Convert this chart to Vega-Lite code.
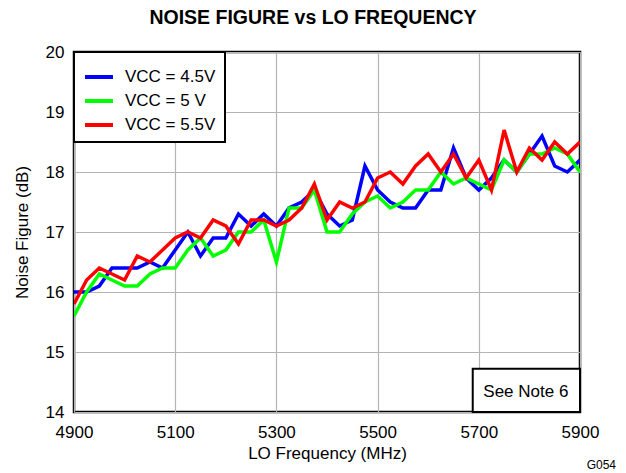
{
  "$schema": "https://vega.github.io/schema/vega-lite/v6.json",
  "width": 506,
  "height": 360,
  "autosize": "none",
  "padding": {"left": 74, "top": 52, "right": 46, "bottom": 61},
  "title": {"text": "NOISE FIGURE vs LO FREQUENCY", "fontSize": 19.5, "fontWeight": "bold", "font": "Liberation Sans", "color": "#000", "offset": 15, "dx": -14},
  "config": {
    "font": "Liberation Sans",
    "view": {"stroke": "#000", "strokeWidth": 2.5},
    "axis": {"grid": true, "gridColor": "#b4b4b4", "gridWidth": 1.2, "gridOpacity": 1, "domain": false, "ticks": false, "labelFontSize": 17, "labelColor": "#000", "labelFont": "Liberation Sans", "labelFlush": false, "labelOverlap": false, "labelBound": false, "titleFontSize": 17, "titleFontWeight": "normal", "titleColor": "#000", "titleFont": "Liberation Sans", "format": "d"},
    "legend": {"strokeWidth": 2}
  },
  "datasets": {
    "nf": [
      {"f":4900,"nf":16.0,"vcc":"VCC = 4.5V"},{"f":4925,"nf":16.0,"vcc":"VCC = 4.5V"},{"f":4950,"nf":16.1,"vcc":"VCC = 4.5V"},{"f":4975,"nf":16.4,"vcc":"VCC = 4.5V"},{"f":5000,"nf":16.4,"vcc":"VCC = 4.5V"},{"f":5025,"nf":16.4,"vcc":"VCC = 4.5V"},{"f":5050,"nf":16.5,"vcc":"VCC = 4.5V"},{"f":5075,"nf":16.4,"vcc":"VCC = 4.5V"},{"f":5100,"nf":16.7,"vcc":"VCC = 4.5V"},{"f":5125,"nf":17.0,"vcc":"VCC = 4.5V"},{"f":5150,"nf":16.6,"vcc":"VCC = 4.5V"},{"f":5175,"nf":16.9,"vcc":"VCC = 4.5V"},{"f":5200,"nf":16.9,"vcc":"VCC = 4.5V"},{"f":5225,"nf":17.3,"vcc":"VCC = 4.5V"},{"f":5250,"nf":17.1,"vcc":"VCC = 4.5V"},{"f":5275,"nf":17.3,"vcc":"VCC = 4.5V"},{"f":5300,"nf":17.1,"vcc":"VCC = 4.5V"},{"f":5325,"nf":17.4,"vcc":"VCC = 4.5V"},{"f":5350,"nf":17.5,"vcc":"VCC = 4.5V"},{"f":5375,"nf":17.7,"vcc":"VCC = 4.5V"},{"f":5400,"nf":17.3,"vcc":"VCC = 4.5V"},{"f":5425,"nf":17.1,"vcc":"VCC = 4.5V"},{"f":5450,"nf":17.2,"vcc":"VCC = 4.5V"},{"f":5475,"nf":18.1,"vcc":"VCC = 4.5V"},{"f":5500,"nf":17.7,"vcc":"VCC = 4.5V"},{"f":5525,"nf":17.5,"vcc":"VCC = 4.5V"},{"f":5550,"nf":17.4,"vcc":"VCC = 4.5V"},{"f":5575,"nf":17.4,"vcc":"VCC = 4.5V"},{"f":5600,"nf":17.7,"vcc":"VCC = 4.5V"},{"f":5625,"nf":17.7,"vcc":"VCC = 4.5V"},{"f":5650,"nf":18.4,"vcc":"VCC = 4.5V"},{"f":5675,"nf":17.9,"vcc":"VCC = 4.5V"},{"f":5700,"nf":17.7,"vcc":"VCC = 4.5V"},{"f":5725,"nf":17.9,"vcc":"VCC = 4.5V"},{"f":5750,"nf":18.2,"vcc":"VCC = 4.5V"},{"f":5775,"nf":18.0,"vcc":"VCC = 4.5V"},{"f":5800,"nf":18.3,"vcc":"VCC = 4.5V"},{"f":5825,"nf":18.6,"vcc":"VCC = 4.5V"},{"f":5850,"nf":18.1,"vcc":"VCC = 4.5V"},{"f":5875,"nf":18.0,"vcc":"VCC = 4.5V"},{"f":5900,"nf":18.2,"vcc":"VCC = 4.5V"},
      {"f":4900,"nf":15.6,"vcc":"VCC = 5 V"},{"f":4925,"nf":16.0,"vcc":"VCC = 5 V"},{"f":4950,"nf":16.3,"vcc":"VCC = 5 V"},{"f":4975,"nf":16.2,"vcc":"VCC = 5 V"},{"f":5000,"nf":16.1,"vcc":"VCC = 5 V"},{"f":5025,"nf":16.1,"vcc":"VCC = 5 V"},{"f":5050,"nf":16.3,"vcc":"VCC = 5 V"},{"f":5075,"nf":16.4,"vcc":"VCC = 5 V"},{"f":5100,"nf":16.4,"vcc":"VCC = 5 V"},{"f":5125,"nf":16.7,"vcc":"VCC = 5 V"},{"f":5150,"nf":16.9,"vcc":"VCC = 5 V"},{"f":5175,"nf":16.6,"vcc":"VCC = 5 V"},{"f":5200,"nf":16.7,"vcc":"VCC = 5 V"},{"f":5225,"nf":17.0,"vcc":"VCC = 5 V"},{"f":5250,"nf":17.0,"vcc":"VCC = 5 V"},{"f":5275,"nf":17.2,"vcc":"VCC = 5 V"},{"f":5300,"nf":16.5,"vcc":"VCC = 5 V"},{"f":5325,"nf":17.4,"vcc":"VCC = 5 V"},{"f":5350,"nf":17.4,"vcc":"VCC = 5 V"},{"f":5375,"nf":17.7,"vcc":"VCC = 5 V"},{"f":5400,"nf":17.0,"vcc":"VCC = 5 V"},{"f":5425,"nf":17.0,"vcc":"VCC = 5 V"},{"f":5450,"nf":17.3,"vcc":"VCC = 5 V"},{"f":5475,"nf":17.5,"vcc":"VCC = 5 V"},{"f":5500,"nf":17.6,"vcc":"VCC = 5 V"},{"f":5525,"nf":17.4,"vcc":"VCC = 5 V"},{"f":5550,"nf":17.5,"vcc":"VCC = 5 V"},{"f":5575,"nf":17.7,"vcc":"VCC = 5 V"},{"f":5600,"nf":17.7,"vcc":"VCC = 5 V"},{"f":5625,"nf":18.0,"vcc":"VCC = 5 V"},{"f":5650,"nf":17.8,"vcc":"VCC = 5 V"},{"f":5675,"nf":17.9,"vcc":"VCC = 5 V"},{"f":5700,"nf":17.8,"vcc":"VCC = 5 V"},{"f":5725,"nf":17.7,"vcc":"VCC = 5 V"},{"f":5750,"nf":18.2,"vcc":"VCC = 5 V"},{"f":5775,"nf":18.0,"vcc":"VCC = 5 V"},{"f":5800,"nf":18.3,"vcc":"VCC = 5 V"},{"f":5825,"nf":18.3,"vcc":"VCC = 5 V"},{"f":5850,"nf":18.4,"vcc":"VCC = 5 V"},{"f":5875,"nf":18.3,"vcc":"VCC = 5 V"},{"f":5900,"nf":18.0,"vcc":"VCC = 5 V"},
      {"f":4900,"nf":15.8,"vcc":"VCC = 5.5V"},{"f":4925,"nf":16.2,"vcc":"VCC = 5.5V"},{"f":4950,"nf":16.4,"vcc":"VCC = 5.5V"},{"f":4975,"nf":16.3,"vcc":"VCC = 5.5V"},{"f":5000,"nf":16.2,"vcc":"VCC = 5.5V"},{"f":5025,"nf":16.6,"vcc":"VCC = 5.5V"},{"f":5050,"nf":16.5,"vcc":"VCC = 5.5V"},{"f":5075,"nf":16.7,"vcc":"VCC = 5.5V"},{"f":5100,"nf":16.9,"vcc":"VCC = 5.5V"},{"f":5125,"nf":17.0,"vcc":"VCC = 5.5V"},{"f":5150,"nf":16.9,"vcc":"VCC = 5.5V"},{"f":5175,"nf":17.2,"vcc":"VCC = 5.5V"},{"f":5200,"nf":17.1,"vcc":"VCC = 5.5V"},{"f":5225,"nf":16.8,"vcc":"VCC = 5.5V"},{"f":5250,"nf":17.2,"vcc":"VCC = 5.5V"},{"f":5275,"nf":17.2,"vcc":"VCC = 5.5V"},{"f":5300,"nf":17.1,"vcc":"VCC = 5.5V"},{"f":5325,"nf":17.2,"vcc":"VCC = 5.5V"},{"f":5350,"nf":17.4,"vcc":"VCC = 5.5V"},{"f":5375,"nf":17.8,"vcc":"VCC = 5.5V"},{"f":5400,"nf":17.2,"vcc":"VCC = 5.5V"},{"f":5425,"nf":17.5,"vcc":"VCC = 5.5V"},{"f":5450,"nf":17.4,"vcc":"VCC = 5.5V"},{"f":5475,"nf":17.5,"vcc":"VCC = 5.5V"},{"f":5500,"nf":17.9,"vcc":"VCC = 5.5V"},{"f":5525,"nf":18.0,"vcc":"VCC = 5.5V"},{"f":5550,"nf":17.8,"vcc":"VCC = 5.5V"},{"f":5575,"nf":18.1,"vcc":"VCC = 5.5V"},{"f":5600,"nf":18.3,"vcc":"VCC = 5.5V"},{"f":5625,"nf":18.0,"vcc":"VCC = 5.5V"},{"f":5650,"nf":18.3,"vcc":"VCC = 5.5V"},{"f":5675,"nf":17.9,"vcc":"VCC = 5.5V"},{"f":5700,"nf":18.2,"vcc":"VCC = 5.5V"},{"f":5725,"nf":17.7,"vcc":"VCC = 5.5V"},{"f":5750,"nf":18.7,"vcc":"VCC = 5.5V"},{"f":5775,"nf":18.0,"vcc":"VCC = 5.5V"},{"f":5800,"nf":18.4,"vcc":"VCC = 5.5V"},{"f":5825,"nf":18.2,"vcc":"VCC = 5.5V"},{"f":5850,"nf":18.5,"vcc":"VCC = 5.5V"},{"f":5875,"nf":18.3,"vcc":"VCC = 5.5V"},{"f":5900,"nf":18.5,"vcc":"VCC = 5.5V"}
    ],
    "note": [{"note": "See Note 6", "code": "G054"}]
  },
  "layer": [
    {
      "data": {"name": "nf"},
      "mark": {"type": "line", "strokeWidth": 3.5, "clip": true},
      "encoding": {
        "x": {"field": "f", "type": "quantitative", "scale": {"domain": [4900, 5900], "nice": false, "zero": false}, "axis": {"values": [4900, 5100, 5300, 5500, 5700, 5900], "labelPadding": 12, "title": "LO Frequency (MHz)", "titlePadding": 5}},
        "y": {"field": "nf", "type": "quantitative", "scale": {"domain": [14, 20], "nice": false, "zero": false}, "axis": {"values": [14, 15, 16, 17, 18, 19, 20], "labelPadding": 10, "title": "Noise Figure (dB)", "titlePadding": 14}},
        "color": {"field": "vcc", "type": "nominal", "scale": {"domain": ["VCC = 4.5V", "VCC = 5 V", "VCC = 5.5V"], "range": ["#0000ff", "#00ff00", "#ff0000"]},
          "legend": {"orient": "top-left", "offset": 0, "title": null, "symbolType": "stroke", "symbolSize": 784, "symbolStrokeWidth": 4, "labelFontSize": 17, "labelColor": "#000", "labelFont": "Liberation Sans", "labelOffset": 10, "labelLimit": 0, "padding": 9, "rowPadding": -6, "strokeColor": "#000", "fillColor": "#fff"}},
        "order": {"field": "f"}
      }
    },
    {
      "data": {"name": "note"},
      "mark": {"type": "rect", "fill": "#fff", "stroke": "#000", "strokeWidth": 2},
      "encoding": {"x": {"datum": 5688}, "x2": {"datum": 5900}, "y": {"datum": 14}, "y2": {"datum": 14.72}}
    },
    {
      "data": {"name": "note"},
      "mark": {"type": "text", "fontSize": 17, "font": "Liberation Sans", "color": "#000", "align": "center", "baseline": "middle"},
      "encoding": {"text": {"field": "note"}, "x": {"datum": 5793}, "y": {"datum": 14.34}}
    },
    {
      "data": {"name": "note"},
      "mark": {"type": "text", "fontSize": 12, "font": "Liberation Sans", "color": "#000", "align": "right", "baseline": "middle", "dx": 36, "dy": 53},
      "encoding": {"text": {"field": "code"}, "x": {"datum": 5900}, "y": {"datum": 14}}
    }
  ]
}
